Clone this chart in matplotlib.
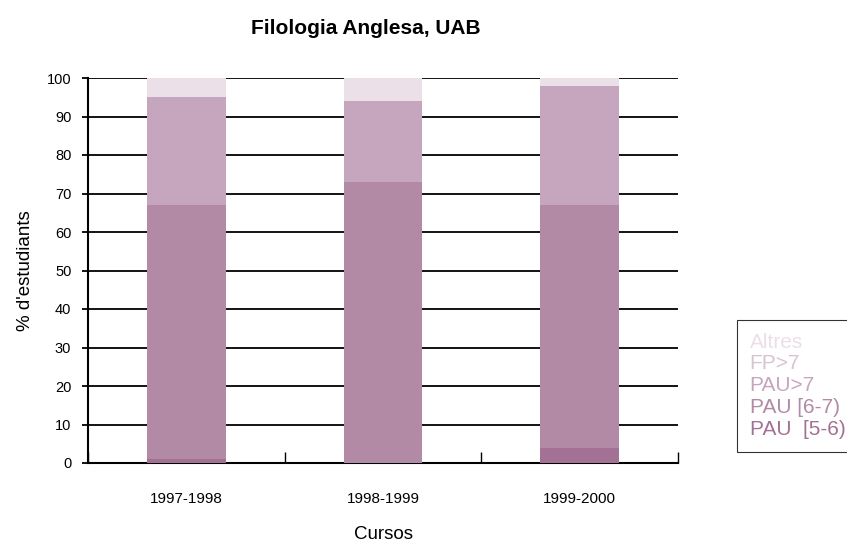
import matplotlib

matplotlib.use("Agg")

import matplotlib.pyplot as plt
import numpy as np

# Curs acadèmic i percentatge d'estudiants per via d'accés (de baix a dalt)
CURSOS = ["1997-1998", "1998-1999", "1999-2000"]
SERIES = ["PAU  [5-6)", "PAU [6-7)", "PAU>7", "FP>7", "Altres"]
PAU_5_6 = [1, 0, 4]
PAU_6_7 = [66, 73, 63]
PAU_7 = [28, 21, 31]
FP_7 = [0, 0, 0]
ALTRES = [5, 6, 2]
YTICKS = list(range(0, 101, 10))

COLORS = ["#A27194", "#B38AA6", "#C6A6BE", "#D9C3D3", "#EBDFE8"]

plt.rcParams["font.family"] = ["Liberation Sans", "DejaVu Sans"]

fig = plt.figure(figsize=(8.47, 5.41), dpi=100)
ax = fig.add_axes([88 / 847, 1 - 463 / 541, 590 / 847, 385 / 541])

x = np.arange(len(CURSOS))
bottom = np.zeros(len(CURSOS))
values = [PAU_5_6, PAU_6_7, PAU_7, FP_7, ALTRES]
for label, vals, color in zip(SERIES, values, COLORS):
    ax.bar(x, vals, 0.4, bottom=bottom, color=color, label=label, zorder=3, linewidth=0)
    bottom += np.array(vals)

for y in YTICKS[1:]:
    ax.axhline(y, color="black", linewidth=1.3, zorder=1)

ax.set_xlim(-0.5, len(CURSOS) - 0.5)
ax.set_ylim(0, 100)
ax.set_yticks(YTICKS)
ax.set_yticklabels([str(v) for v in YTICKS], fontsize=10.5)
ax.tick_params(axis="y", direction="out", length=4, width=1.3, pad=8)

ax.set_xticks(x)
ax.set_xticklabels(CURSOS, fontsize=11)
ax.tick_params(axis="x", length=0, pad=21)
ax.set_xticks(np.arange(len(CURSOS) + 1) - 0.5, minor=True)
ax.tick_params(axis="x", which="minor", direction="in", length=8, width=1.0)

for s in ("top", "right"):
    ax.spines[s].set_visible(False)
for s in ("left", "bottom"):
    ax.spines[s].set_linewidth(1.5)

ax.set_ylabel("% d'estudiants", fontsize=13.5, labelpad=9)
ax.set_xlabel("Cursos", fontsize=13.5, labelpad=14)
fig.text(366 / 847, 1 - 28 / 541, "Filologia Anglesa, UAB", ha="center", va="center",
         fontsize=15, fontweight="bold")

handles, labels = ax.get_legend_handles_labels()
leg = fig.legend(handles[::-1], labels[::-1], loc="upper left",
                 bbox_to_anchor=(737 / 847, 1 - 320 / 541), borderaxespad=0,
                 frameon=True, fancybox=False,
                 handlelength=0, handletextpad=0, borderpad=0.6, labelspacing=0.14,
                 prop={"size": 15}, labelcolor=COLORS[::-1])
for h in leg.legend_handles:
    h.set_visible(False)
leg.get_frame().set_edgecolor("black")
leg.get_frame().set_linewidth(0.8)

fig.savefig("out.png", dpi=100)
